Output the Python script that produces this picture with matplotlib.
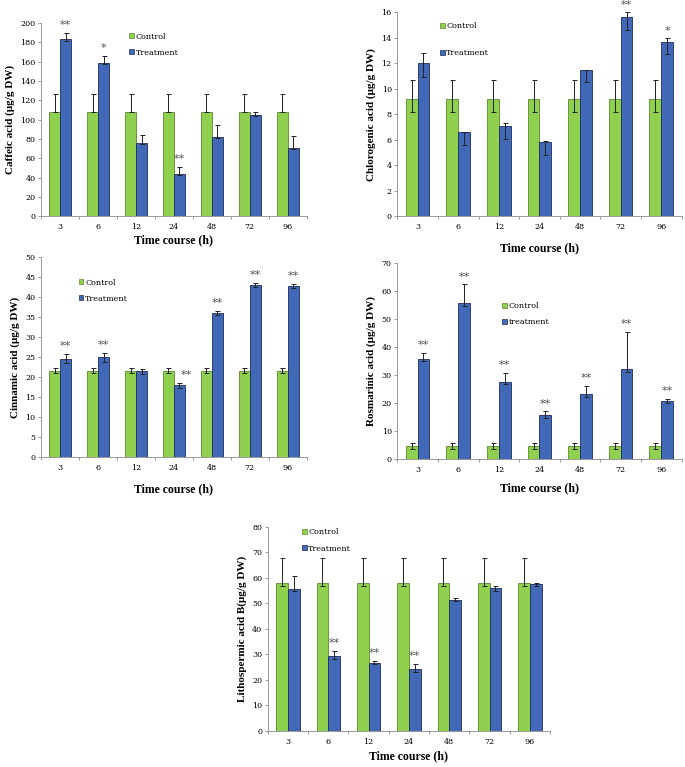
import numpy as np
import matplotlib
matplotlib.use("Agg")
import matplotlib.pyplot as plt
from matplotlib.patches import Patch

plt.rcParams['font.family'] = ['DejaVu Serif']

hours = ['3', '6', '12', '24', '48', '72', '96']

# caffeic acid
caf_ctrl = [108, 108, 108, 108, 108, 108, 108]
caf_ctrl_lo = [0, 0, 0, 0, 0, 0, 0]
caf_ctrl_hi = [19, 19, 19, 19, 19, 19, 19]
caf_trt = [183, 159, 76, 44, 82, 105, 71]
caf_trt_lo = [1.5, 1.5, 1.5, 1.5, 1.5, 1.5, 1.5]
caf_trt_hi = [7, 7, 8, 7, 12, 3, 12]
caf_sig = ['**', '*', '', '**', '', '', '']

# chlorogenic acid
chl_ctrl = [9.2, 9.2, 9.2, 9.2, 9.2, 9.2, 9.2]
chl_ctrl_lo = [1.0, 1.0, 1.0, 1.0, 1.0, 1.0, 1.0]
chl_ctrl_hi = [1.5, 1.5, 1.5, 1.5, 1.5, 1.5, 1.5]
chl_trt = [12.0, 6.6, 7.1, 5.8, 11.5, 15.6, 13.7]
chl_trt_lo = [1.1, 1.0, 1.0, 1.0, 1.0, 1.0, 1.0]
chl_trt_hi = [0.8, 0.0, 0.2, 0.1, 0.0, 0.4, 0.25]
chl_sig = ['', '', '', '', '', '**', '*']

# cinnamic acid
cin_ctrl = [21.6, 21.6, 21.6, 21.6, 21.6, 21.6, 21.6]
cin_ctrl_err = [0.6, 0.6, 0.6, 0.6, 0.6, 0.6, 0.6]
cin_trt = [24.6, 24.9, 21.4, 17.9, 36.0, 43.0, 42.8]
cin_trt_err = [1.2, 1.1, 0.6, 0.6, 0.5, 0.5, 0.5]
cin_sig = ['**', '**', '', '**', '**', '**', '**']

# rosmarinic acid
ros_ctrl = [4.6, 4.6, 4.6, 4.6, 4.6, 4.6, 4.6]
ros_ctrl_err = [1.0, 1.0, 1.0, 1.0, 1.0, 1.0, 1.0]
ros_trt = [35.7, 55.8, 27.5, 15.5, 23.1, 32.0, 20.8]
ros_trt_lo = [0.8, 1.2, 0.8, 1.0, 0.9, 1.0, 0.9]
ros_trt_hi = [2.2, 6.6, 3.2, 1.5, 2.9, 13.3, 0.5]
ros_sig = ['**', '**', '**', '**', '**', '**', '**']

# lithospermic acid B
lit_ctrl = [58, 58, 58, 58, 58, 58, 58]
lit_ctrl_lo = [1.0, 1.0, 1.0, 1.0, 1.0, 1.0, 1.0]
lit_ctrl_hi = [10, 10, 10, 10, 10, 10, 10]
lit_trt = [55.8, 29.5, 26.8, 24.3, 51.5, 56.0, 57.5]
lit_trt_lo = [1.0, 1.2, 0.7, 1.2, 0.6, 1.0, 0.5]
lit_trt_hi = [4.9, 1.8, 0.7, 2.0, 0.6, 1.0, 0.5]
lit_sig = ['', '**', '**', '**', '', '', '']

GREEN = '#8fd14f'
GREEN_EDGE = '#5b8a2c'
BLUE = '#4268b8'
BLUE_EDGE = '#1c2b5a'


def panel(ax, ctrl, ctrl_err, trt, trt_err, sig, ymax, ystep, ylabel,
          labels, leg_xy, leg_space, star_dx=0.0, xpad=3):
    x = np.arange(len(hours))
    w = 0.29
    ax.bar(x - w / 2, ctrl, w, color=GREEN, edgecolor=GREEN_EDGE, lw=0.6, zorder=2)
    ax.bar(x + w / 2, trt, w, color=BLUE, edgecolor=BLUE_EDGE, lw=0.6, zorder=2)
    ax.errorbar(x - w / 2, ctrl, yerr=ctrl_err, fmt='none', ecolor='#222222',
                elinewidth=0.7, capsize=1.8, capthick=0.7, zorder=3)
    ax.errorbar(x + w / 2, trt, yerr=trt_err, fmt='none', ecolor='#222222',
                elinewidth=0.7, capsize=1.8, capthick=0.7, zorder=3)
    hi = np.array(trt_err[1]) if np.ndim(trt_err) == 2 else np.array(trt_err)
    for i, s in enumerate(sig):
        if s:
            ax.annotate(s, (x[i] + w / 2 + star_dx * (i == 3), trt[i] + hi[i]),
                        xytext=(0, 2), textcoords='offset points',
                        ha='center', va='bottom', fontsize=8, color='#555555')
    ax.set_xlim(-0.5, len(hours) - 0.5)
    ax.set_ylim(0, ymax)
    ax.set_yticks(np.arange(0, ymax + ystep / 2, ystep))
    ax.set_xticks(x)
    ax.set_xticklabels(hours)
    ax.set_xticks(np.arange(-0.5, len(hours), 1), minor=True)
    ax.tick_params(axis='x', which='major', length=0, labelsize=5.8, pad=5)
    ax.tick_params(axis='x', which='minor', length=2, color='#888888', width=0.6)
    ax.tick_params(axis='y', length=2, color='#888888', width=0.6, labelsize=5.8, pad=2)
    for sp in ['top', 'right']:
        ax.spines[sp].set_visible(False)
    for sp in ['left', 'bottom']:
        ax.spines[sp].set_color('#999999')
        ax.spines[sp].set_linewidth(0.7)
    ax.set_ylabel(ylabel, family='Liberation Serif', fontweight='bold', fontsize=8, labelpad=4)
    ax.set_xlabel('Time course (h)', family='Liberation Serif', fontweight='bold', fontsize=8.5,
                  labelpad=xpad)
    handles = [Patch(facecolor=GREEN, edgecolor=GREEN_EDGE, lw=0.5),
               Patch(facecolor=BLUE, edgecolor=BLUE_EDGE, lw=0.5)]
    ax.legend(handles, labels, loc='upper left', bbox_to_anchor=leg_xy, frameon=False,
              fontsize=5.8, handlelength=0.6, handleheight=0.6, handletextpad=0.2,
              labelspacing=leg_space, borderpad=0.2)


fig = plt.figure(figsize=(6.85, 7.67), dpi=100)

ax1 = fig.add_axes([0.060, 0.718, 0.388, 0.252])
panel(ax1, caf_ctrl, [caf_ctrl_lo, caf_ctrl_hi], caf_trt, [caf_trt_lo, caf_trt_hi], caf_sig,
      200, 20, 'Caffeic acid (μg/g DW)', ['Control', 'Treatment'], (0.31, 0.98), 1.0, xpad=2)

ax2 = fig.add_axes([0.580, 0.718, 0.415, 0.266])
panel(ax2, chl_ctrl, [chl_ctrl_lo, chl_ctrl_hi], chl_trt, [chl_trt_lo, chl_trt_hi], chl_sig,
      16, 2, 'Chlorogenic acid (μg/g DW)', ['Control', 'Treatment'], (0.13, 0.98), 2.4, xpad=8)

ax3 = fig.add_axes([0.060, 0.404, 0.388, 0.261])
panel(ax3, cin_ctrl, cin_ctrl_err, cin_trt, cin_trt_err, cin_sig,
      50, 5, 'Cinnamic acid (μg/g DW)', ['Control', 'Treatment'], (0.12, 0.92), 1.0,
      star_dx=0.18, xpad=8)

ax4 = fig.add_axes([0.580, 0.402, 0.415, 0.255])
panel(ax4, ros_ctrl, ros_ctrl_err, ros_trt, [ros_trt_lo, ros_trt_hi], ros_sig,
      70, 10, 'Rosmarinic acid (μg/g DW)', ['Control', 'treatment'], (0.35, 0.83), 1.0, xpad=6)

ax5 = fig.add_axes([0.391, 0.047, 0.412, 0.266])
panel(ax5, lit_ctrl, [lit_ctrl_lo, lit_ctrl_hi], lit_trt, [lit_trt_lo, lit_trt_hi], lit_sig,
      80, 10, 'Lithospermic acid B(μg/g DW)', ['Control', 'Treatment'], (0.10, 1.02), 1.0, xpad=3)

fig.savefig('out.png', dpi=100)
